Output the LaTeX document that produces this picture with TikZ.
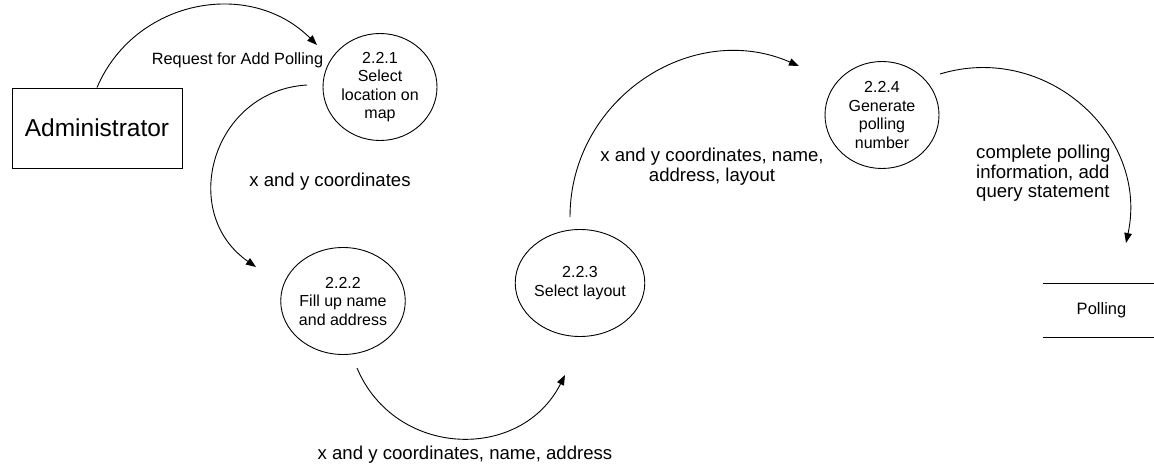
\documentclass[tikz,border=0pt]{standalone}
\usepackage{fontspec}
\setmainfont{Liberation Sans}
\usetikzlibrary{arrows.meta,shapes.geometric}
\begin{document}
\begin{tikzpicture}[x=1pt,y=-1pt,
  thin line/.style={line width=0.9pt},
  extent/.style={draw, thin line, rectangle, minimum width=170pt, minimum height=80pt,
    inner sep=0pt, font=\fontsize{24.5}{28}\selectfont},
  proc/.style={draw, thin line, ellipse, minimum width=114pt, minimum height=107pt,
    inner sep=0pt, align=center, font=\fontsize{16}{18.5}\selectfont},
  store/.style={rectangle, minimum width=117pt, minimum height=53pt, inner sep=0pt,
    font=\fontsize{16.5}{19}\selectfont},
  lbl/.style={inner sep=0pt, align=center, font=\fontsize{18.6}{19.5}\selectfont},
  small lbl/.style={inner sep=0pt, font=\fontsize{16.3}{19}\selectfont},
  flow/.style={thin line, -{Triangle[length=10pt,width=7.5pt]}}]
\useasboundingbox (0,0) rectangle (1154,465);

% external entity and processes
\node[extent] (adm) at (97,128) {Administrator};
\node[proc] (p1) at (380,87)  {2.2.1\\Select\\location on\\map};
\node[proc] (p2) at (343,301) {2.2.2\\Fill up name\\and address};
\node[proc] (p3) at (580,283) {2.2.3\\Select layout};
\node[proc] (p4) at (882,115) {2.2.4\\Generate\\polling\\number};

% data store
\node[store] (db) at (1101.5,310.5) {Polling};
\draw[thin line] (db.north west) -- (db.north east)
                 (db.south west) -- (db.south east);

% free ends of the data flows
\coordinate (e1) at (317,45);
\coordinate (s2) at (307,85);
\coordinate (e2) at (256,267);
\coordinate (s3) at (357,368);
\coordinate (e3) at (565,375);
\coordinate (s4) at (570,217);
\coordinate (e4) at (799,66);
\coordinate (s5) at (940,74);
\coordinate (e5) at (1126,243);

% data flows (circular arcs)
\draw[flow] (adm.north) .. controls (134.4,-0.2) and (249.3,-22.5) .. (e1);
\draw[flow] (s2) .. controls (212.1,90.6) and (177.8,212.8) .. (e2);
\draw[flow] (s3) .. controls (395.0,458.1) and (520.9,462.3) .. (e3);
\draw[flow] (s4) .. controls (570,99.5) and (691.4,19.0) .. (e4);
\draw[flow] (s5) .. controls (1045.7,41.8) and (1149.2,134.9) .. (e5);

% flow labels
\node[small lbl] (l1) at (237.5,60) {Request for Add Polling};
\node[lbl] (l2) at (330,182) {x and y coordinates};
\node[lbl] (l3) at (465,455) {x and y coordinates, name, address};
\node[lbl] (l4) at (712,166.5) {x and y coordinates, name,\\address, layout};
\node[lbl, anchor=west, align=left] (l5) at (976,173.5)
  {complete polling\\information, add\\query statement};
\end{tikzpicture}
\end{document}
